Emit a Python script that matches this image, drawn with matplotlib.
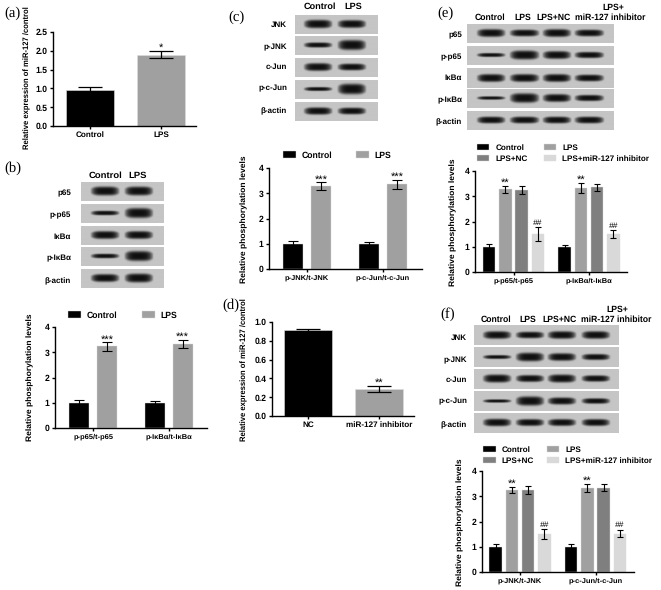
import numpy as np
import matplotlib
matplotlib.use('Agg')
import matplotlib.pyplot as plt

plt.rcParams['font.family'] = ['Liberation Sans', 'DejaVu Sans']
plt.rcParams['font.weight'] = 'bold'
plt.rcParams['text.hinting'] = 'no_hinting'

W, H = 661, 590

BLACK = '#000000'
GRAY = '#a0a0a0'
DARK = '#7f7f7f'
LIGHT = '#d9d9d9'

# bar values
a_names = ['Control', 'LPS']
a_vals = [0.97, 1.90]
a_errs = [0.06, 0.10]

d_names = ['NC', 'miR-127 inhibitor']
d_vals = [0.91, 0.29]
d_errs = [0.02, 0.03]

b_groups = ['p-p65/t-p65', 'p-IκBα/t-IκBα']
b_control = [1.0, 1.0]
b_lps = [3.23, 3.33]
b_control_err = [0.10, 0.08]
b_lps_err = [0.17, 0.15]

c_groups = ['p-JNK/t-JNK', 'p-c-Jun/t-c-Jun']
c_control = [1.0, 1.0]
c_lps = [3.27, 3.35]
c_control_err = [0.10, 0.08]
c_lps_err = [0.16, 0.17]

e_control = [1.0, 1.0]
e_lps = [3.27, 3.33]
e_nc = [3.25, 3.35]
e_inh = [1.50, 1.50]
e_control_err = [0.10, 0.08]
e_lps_err = [0.14, 0.19]
e_nc_err = [0.15, 0.15]
e_inh_err = [0.27, 0.16]

f_control = [1.0, 1.0]
f_lps = [3.25, 3.33]
f_nc = [3.25, 3.33]
f_inh = [1.50, 1.52]
f_control_err = [0.12, 0.10]
f_lps_err = [0.13, 0.15]
f_nc_err = [0.16, 0.14]
f_inh_err = [0.20, 0.15]

# band thickness on the blots, one list per row
nf_rows = ['p65', 'p-p65', 'IκBα', 'p-IκBα', 'β-actin']
mapk_rows = ['JNK', 'p-JNK', 'c-Jun', 'p-c-Jun', 'β-actin']
b_bands = [[8, 8], [4, 9], [7, 7], [4, 9], [7, 8]]
c_bands = [[7.5, 7], [4.5, 9], [7, 6], [3.5, 9.5], [6.5, 6]]
e_bands = [[7, 6, 7, 6], [3.5, 8, 7, 5.5], [7, 7, 7, 6], [3, 8.5, 7, 5.5], [6, 6, 6, 6]]
f_bands = [[7, 6, 7, 7], [3.5, 8, 7, 5.5], [7, 6, 7, 5.5], [3, 8.5, 6.5, 5], [6.5, 6, 6, 6]]


def px_axes(left, top, right, bottom):
    return fig.add_axes([left / W, 1 - bottom / H, (right - left) / W, (bottom - top) / H])


def ftext(x, y, s, **kw):
    kw.setdefault('ha', 'center')
    kw.setdefault('va', 'center')
    fig.text(x / W, 1 - y / H, s, **kw)


def style_axes(ax, ymax, yticks, fmt, size):
    ax.set_ylim(0, ymax)
    ax.set_yticks(yticks)
    ax.set_yticklabels([fmt % t for t in yticks], fontsize=size)
    for s in ['top', 'right']:
        ax.spines[s].set_visible(False)
    for s in ['left', 'bottom']:
        ax.spines[s].set_linewidth(1.0)
    ax.tick_params(axis='both', width=1.0, length=2.5, pad=1.5)
    ax.patch.set_alpha(0)


def mark_bar(ax, x, y, mark):
    # stars sit high in their line, hashes do not
    if '*' in mark:
        ax.annotate(mark, (x, y), xytext=(0, 2), textcoords='offset points', ha='center', va='center',
                    fontsize=8, fontweight='normal')
    else:
        ax.annotate(mark, (x, y), xytext=(0, 0.5), textcoords='offset points', ha='center', va='bottom',
                    fontsize=6.0, fontweight='normal', style='italic')


def two_bars(rect, names, vals, errs, ymax, yticks, fmt, mark, ylabel, ylab_xy, ylab_size):
    # two wide bars, as in panels a and d
    left, top, right, bottom, c0, c1 = rect
    ax = px_axes(left, top, right, bottom)
    step = c1 - c0
    ax.set_xlim((left - c0) / step, (right - c0) / step)
    x = np.arange(len(vals))
    ax.bar(x, vals, width=48 / step, color=[BLACK, GRAY], edgecolor='#dddddd', linewidth=0.4,
           yerr=errs, capsize=8.5, error_kw={'elinewidth': 0.9, 'capthick': 0.9})
    ax.set_xticks(x)
    ax.set_xticklabels(names, fontsize=5.9)
    style_axes(ax, ymax, yticks, fmt, 6.2)
    mark_bar(ax, 1, vals[1] + errs[1], mark)
    ftext(ylab_xy[0], ylab_xy[1], ylabel, rotation=90, fontsize=ylab_size)


def group_bars(rect, groups, series, errs, colors, names, marks, ylab_xy, legend_xy, step_px, width_px, spacing):
    left, top, right, bottom, g0, g1 = rect
    ax = px_axes(left, top, right, bottom)
    gap = g1 - g0
    ax.set_xlim((left - g0) / gap, (right - g0) / gap)
    n = len(series)
    xg = np.arange(len(groups))
    handles = []
    for i in range(n):
        off = (i - (n - 1) / 2) * step_px / gap
        bars = ax.bar(xg + off, series[i], width=width_px / gap, color=colors[i], edgecolor='#dddddd',
                      linewidth=0.3, yerr=errs[i], capsize=2.2 if n == 4 else 3.6,
                      error_kw={'elinewidth': 0.8, 'capthick': 0.8})
        handles.append(bars)
        if marks[i]:
            for j in range(len(groups)):
                mark_bar(ax, xg[j] + off, series[i][j] + errs[i][j], marks[i])
    ax.set_xticks(xg)
    ax.set_xticklabels(groups, fontsize=5.4)
    style_axes(ax, 4, [0, 1, 2, 3, 4], '%d', 6.2)
    ftext(ylab_xy[0], ylab_xy[1], 'Relative phosphorylation levels', rotation=90, fontsize=6.1)
    if n == 2:
        order = [0, 1]
        fs = 6.2
    else:
        order = [0, 2, 1, 3]
        fs = 5.9
    fs_px = fs * 100 / 72
    ax.legend([handles[k] for k in order], [names[k] for k in order], ncols=2, frameon=False,
              loc='upper left', bbox_to_anchor=(legend_xy[0] / W, 1 - legend_xy[1] / H),
              bbox_transform=fig.transFigure, borderpad=0, borderaxespad=0, fontsize=fs,
              handlelength=12.5 / fs_px, handleheight=6.5 / fs_px, handletextpad=6 / fs_px,
              columnspacing=spacing / fs_px, labelspacing=3.5 / fs_px)


def blot(left, right, row_tops, row_h, lanes, bands, labels, label_right, label_ys):
    # each row is a small grey image with dark bands on it
    for r, top in enumerate(row_tops):
        ax = px_axes(left, top, right, top + row_h)
        nx = int(right - left) * 2
        ny = int(row_h) * 2
        xx = np.linspace(left, right, nx)
        yy = np.linspace(0, row_h, ny)
        X, Y = np.meshgrid(xx, yy)
        img = np.full(X.shape, 0.77)
        for (x0, x1), th in zip(lanes, bands[r]):
            xc = (x0 + x1) / 2
            hw = (x1 - x0) / 2
            prof = np.clip(1 - ((X - xc) / hw) ** 4, 0, 1)
            thick = th * (0.55 + 0.45 * prof)
            dark = np.exp(-((Y - row_h * 0.5) / (thick * 0.55)) ** 4) * prof
            img = img * (1 - 0.92 * dark)
        ax.imshow(img, cmap='gray', vmin=0, vmax=1, aspect='auto', interpolation='bilinear')
        ax.axis('off')
        ftext(label_right, label_ys[r], labels[r], ha='right', fontsize=5.8)


fig = plt.figure(figsize=(W / 100, H / 100), dpi=100)

# panel letters
for x, y, s in [(4, 13, '(a)'), (4, 168, '(b)'), (228, 17, '(c)'), (222, 305, '(d)'), (437, 13, '(e)'), (440, 314, '(f)')]:
    ftext(x, y, s, ha='left', family='Liberation Serif', fontweight='normal', fontsize=10.5)

# (a)
two_bars((53, 32, 196, 126, 90, 161), a_names, a_vals, a_errs, 2.5, [0, 0.5, 1, 1.5, 2, 2.5], '%.1f', '*',
         'Relative expression of miR-127 /control', (27, 78), 5.5)

# (b)
blot(81, 164, [182, 204, 226, 247, 269], 19.5, [(90, 120), (124, 154)], b_bands, nf_rows, 71, [193, 215, 237, 258, 281])
ftext(105, 176, 'Control', fontsize=6.8)
ftext(138, 176, 'LPS', fontsize=6.8)
group_bars((55, 327, 207, 428, 93, 168.5), b_groups, [b_control, b_lps], [b_control_err, b_lps_err], [BLACK, GRAY],
           ['Control', 'LPS'], ['', '***'], (30, 377), (68, 311), 28, 20, 25)

# (c)
blot(295, 378, [15, 36, 58, 80, 102], 19.5, [(303, 333), (337, 367)], c_bands, mapk_rows, 287, [25, 47, 67, 88, 111])
ftext(320, 7, 'Control', fontsize=6.6)
ftext(353, 7, 'LPS', fontsize=6.6)
group_bars((269, 168, 422, 269, 307, 383), c_groups, [c_control, c_lps], [c_control_err, c_lps_err], [BLACK, GRAY],
           ['Control', 'LPS'], ['', '***'], (244, 219), (283, 151), 28, 20, 24)

# (d)
two_bars((272, 322, 414, 416, 308, 379), d_names, d_vals, d_errs, 1.0, [0, 0.2, 0.4, 0.6, 0.8, 1.0], '%.1f', '**',
         'Relative expression of miR-127 /control', (244, 370), 5.5)

# (e)
blot(467, 614, [24, 46, 68, 89, 111], 19.5, [(476, 506), (509, 540), (542, 572), (574, 605)], e_bands, nf_rows, 462,
     [35, 57, 78, 100, 122])
for x, s in [(490, 'Control'), (523, 'LPS'), (554, 'LPS+NC'), (610, 'miR-127 inhibitor')]:
    ftext(x, 18, s, fontsize=6.2)
ftext(613, 8, 'LPS+', fontsize=6.2)
group_bars((475, 171, 627, 272, 513.5, 589), b_groups, [e_control, e_lps, e_nc, e_inh],
           [e_control_err, e_lps_err, e_nc_err, e_inh_err], [BLACK, GRAY, DARK, LIGHT],
           ['Control', 'LPS', 'LPS+NC', 'LPS+miR-127 inhibitor'], ['', '**', '', '##'], (453, 222), (477, 144), 16.3, 12.5, 16)

# (f)
blot(474, 619, [325, 347, 369, 391, 413], 20, [(482, 512), (515, 545), (547, 577), (581, 611)], f_bands, mapk_rows, 467,
     [338, 360, 380, 401, 425])
for x, s in [(496, 'Control'), (528, 'LPS'), (560, 'LPS+NC'), (616, 'miR-127 inhibitor')]:
    ftext(x, 320, s, fontsize=6.2)
ftext(617, 310, 'LPS+', fontsize=6.2)
group_bars((482, 471, 634, 572, 520, 595.5), c_groups, [f_control, f_lps, f_nc, f_inh],
           [f_control_err, f_lps_err, f_nc_err, f_inh_err], [BLACK, GRAY, DARK, LIGHT],
           ['Control', 'LPS', 'LPS+NC', 'LPS+miR-127 inhibitor'], ['', '**', '', '##'], (460, 522), (483, 446), 16.3, 12.5, 13)

fig.savefig('out.png', dpi=100)
